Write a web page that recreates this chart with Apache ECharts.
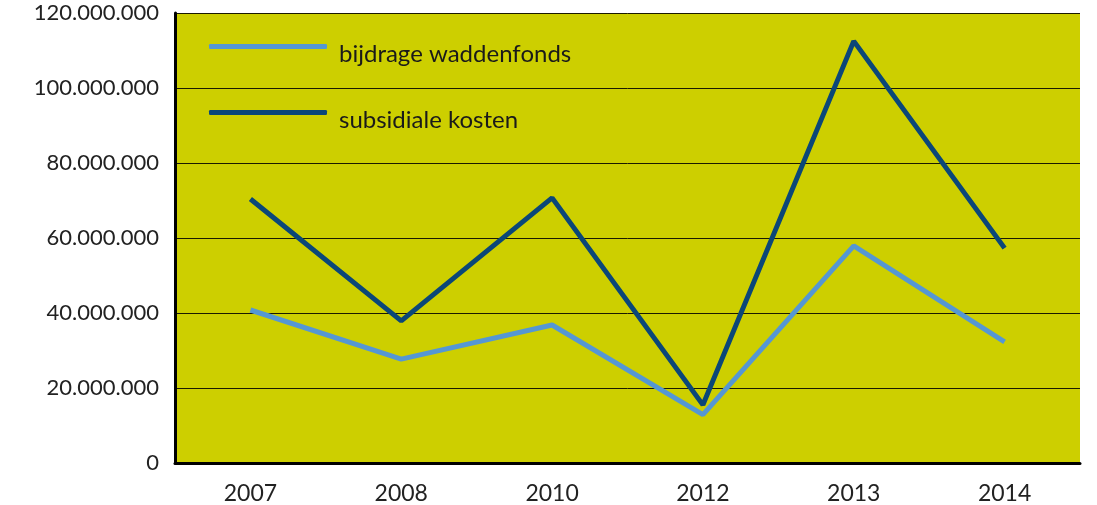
<!DOCTYPE html>
<html>
<head>
<meta charset="utf-8">
<script src="https://cdn.jsdelivr.net/npm/echarts@6/dist/echarts.min.js"></script>
<style>
  html, body { margin: 0; padding: 0; background: #fff; }
  #main { width: 1097px; height: 505px; }
</style>
</head>
<body>
<div id="main"></div>
<script>
var years = ['2007', '2008', '2010', '2012', '2013', '2014'];
var bijdrage = [40800000, 27700000, 36800000, 12900000, 57900000, 32300000];
var subsidiale = [70400000, 37900000, 70700000, 15500000, 112500000, 57300000];

var chartDom = document.getElementById('main');
var myChart = echarts.init(chartDom);
var option;

function dots(v) {
  return String(v).replace(/\B(?=(\d{3})+(?!\d))/g, '.');
}

option = {
  animation: false,
  textStyle: { fontFamily: 'Lato' },
  grid: { left: 175, right: 17, top: 13, bottom: 41, show: true, backgroundColor: '#CDCF00', borderWidth: 0 },
  legend: {
    orient: 'vertical',
    left: 204,
    top: 22,
    itemGap: 27,
    itemWidth: 118,
    itemHeight: 5,
    icon: 'roundRect',
    // empty first line pushes the name a little below the line icon
    formatter: function (name) { return '\n' + name; },
    textStyle: { fontSize: 24, lineHeight: 15, color: '#1a1a1a', padding: [0, 0, 0, 7], fontFamily: 'Lato' },
    data: ['bijdrage waddenfonds', 'subsidiale kosten']
  },
  xAxis: {
    type: 'category',
    data: years,
    boundaryGap: true,
    axisLine: { lineStyle: { color: '#000', width: 3 } },
    axisTick: { inside: true, length: 10, lineStyle: { color: '#000', width: 2 } },
    axisLabel: { color: '#222', fontSize: 23, margin: 19 }
  },
  yAxis: {
    type: 'value',
    min: 0,
    max: 120000000,
    interval: 20000000,
    axisLine: { show: true, lineStyle: { color: '#000', width: 3 } },
    axisTick: { show: false },
    axisLabel: { color: '#222', fontSize: 22, margin: 16, formatter: dots },
    splitLine: { lineStyle: { color: '#1a1a00', width: 1 } }
  },
  series: [
    {
      name: 'bijdrage waddenfonds',
      type: 'line',
      data: bijdrage,
      symbol: 'none',
      color: '#5597D3',
      lineStyle: { width: 5, color: '#5597D3' }
    },
    {
      name: 'subsidiale kosten',
      type: 'line',
      data: subsidiale,
      symbol: 'none',
      color: '#0B4778',
      lineStyle: { width: 5, color: '#0B4778' }
    }
  ]
};

if (chartDom && myChart) {
  myChart.setOption(option);
} else {
  console.error('Failed to initialize the chart');
}
</script>
</body>
</html>
